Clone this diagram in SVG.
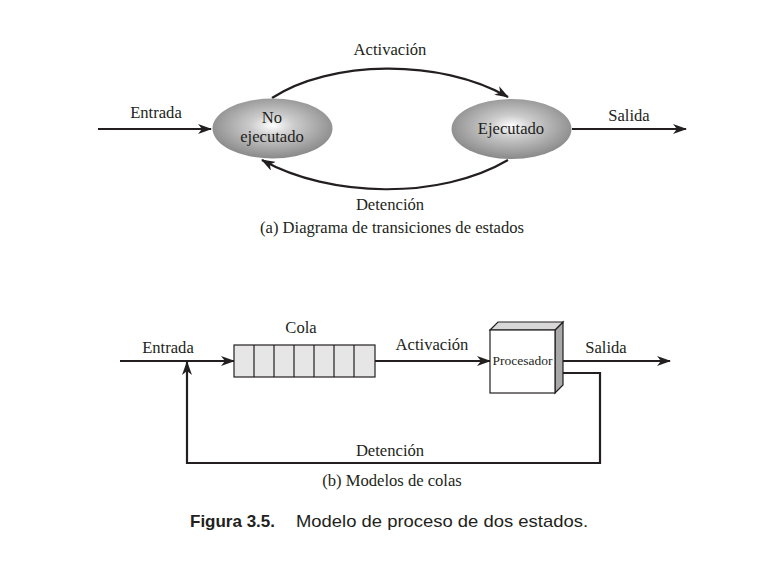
<svg xmlns="http://www.w3.org/2000/svg" width="757" height="563" viewBox="0 0 757 563">
<style>
.t{font-family:"Liberation Serif","Times New Roman",serif;font-size:16.6px;fill:#231f20}
.c{stroke:#231f20;stroke-width:2.2;fill:none}
.cap{font-family:"Liberation Sans",Arial,sans-serif;font-size:17px;fill:#231f20}
</style>
<defs>
<marker id="ah" viewBox="0 0 14 10" refX="13" refY="5" markerWidth="14" markerHeight="10" markerUnits="userSpaceOnUse" orient="auto">
<path d="M0,0 L14,5 L0,10 L4,5 z" fill="#231f20"/>
</marker>
<radialGradient id="g" cx="0.5" cy="0.45" r="0.6">
<stop offset="0" stop-color="#ffffff"/>
<stop offset="0.3" stop-color="#cccccc"/>
<stop offset="1" stop-color="#808080"/>
</radialGradient>
</defs>
<rect width="757" height="563" fill="#ffffff"/>
<g id="connectors">
<line class="c" x1="98" y1="129" x2="211" y2="129" marker-end="url(#ah)"/>
<line class="c" x1="572" y1="129" x2="686" y2="129" marker-end="url(#ah)"/>
<path class="c" d="M272,98 C330,60 440,58 508,97" marker-end="url(#ah)"/>
<path class="c" d="M508,160 C440,200 330,198 262,160" marker-end="url(#ah)"/>
<line class="c" x1="120" y1="361" x2="234" y2="361" marker-end="url(#ah)"/>
<line class="c" x1="375" y1="361" x2="490" y2="361" marker-end="url(#ah)"/>
<line class="c" x1="555" y1="361" x2="670" y2="361" marker-end="url(#ah)"/>
<polyline class="c" points="560,373 600,373 600,463 187,463 187,362" marker-end="url(#ah)"/>
</g>
<g id="no-ejecutado">
<ellipse cx="272.5" cy="128.5" rx="60" ry="30" fill="url(#g)"/>
<text class="t" x="272" y="123" text-anchor="middle">No</text>
<text class="t" x="272" y="142" text-anchor="middle">ejecutado</text>
</g>
<g id="ejecutado">
<ellipse cx="511.5" cy="129" rx="60" ry="30" fill="url(#g)"/>
<text class="t" x="511" y="134" text-anchor="middle">Ejecutado</text>
</g>
<g id="cola">
<rect x="234" y="345" width="141" height="32" fill="#e6e6e6" stroke="#231f20" stroke-width="1.2"/>
<path d="M254,345 V377 M274,345 V377 M294,345 V377 M314,345 V377 M334,345 V377 M354,345 V377" stroke="#231f20" stroke-width="1.2"/>
</g>
<g id="procesador">
<path d="M555,330 L563,322 L563,385 L555,393 Z" fill="#a8a8a8" stroke="#231f20" stroke-width="1.2"/>
<path d="M490,330 L498,322 L563,322 L555,330 Z" fill="#d8d8d8" stroke="#231f20" stroke-width="1.2"/>
<rect x="490" y="330" width="65" height="63" fill="#ffffff" stroke="#231f20" stroke-width="1.2"/>
<text class="t" x="522.5" y="365" text-anchor="middle" style="font-size:13px" textLength="60" lengthAdjust="spacingAndGlyphs">Procesador</text>
</g>
<g id="labels">
<text class="t" x="156" y="118" text-anchor="middle">Entrada</text>
<text class="t" x="629" y="121" text-anchor="middle">Salida</text>
<text class="t" x="390" y="55" text-anchor="middle">Activación</text>
<text class="t" x="390" y="210" text-anchor="middle">Detención</text>
<text class="t" x="392" y="233" text-anchor="middle">(a) Diagrama de transiciones de estados</text>
<text class="t" x="168" y="353" text-anchor="middle">Entrada</text>
<text class="t" x="301" y="333" text-anchor="middle">Cola</text>
<text class="t" x="432" y="350" text-anchor="middle">Activación</text>
<text class="t" x="606" y="353" text-anchor="middle">Salida</text>
<text class="t" x="390" y="456" text-anchor="middle">Detención</text>
<text class="t" x="392" y="486" text-anchor="middle">(b) Modelos de colas</text>
<text class="cap" x="190" y="527" font-weight="bold" textLength="85" lengthAdjust="spacingAndGlyphs">Figura 3.5.</text>
<text class="cap" x="296" y="527" textLength="292" lengthAdjust="spacingAndGlyphs">Modelo de proceso de dos estados.</text>
</g>
</svg>
